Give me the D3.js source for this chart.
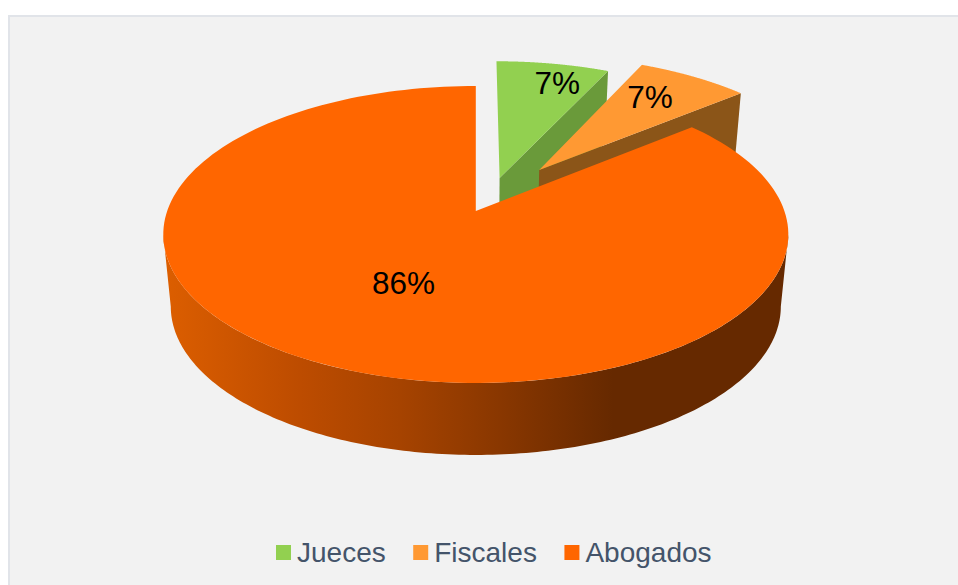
<!DOCTYPE html>
<html>
<head>
<meta charset="utf-8">
<style>
  html, body { margin: 0; padding: 0; background: #fff; }
  svg { display: block; }
  text { font-family: "Liberation Sans", Arial, sans-serif; }
</style>
<script src="https://d3js.org/d3.v7.min.js"></script>
</head>
<body>
<svg id="chart" width="958" height="585"></svg>
<script>
// Shares of respondents by role
const categories = ["Jueces", "Fiscales", "Abogados"];
const shares = [7, 7, 86];
const shareLabels = ["7%", "7%", "86%"];

// Fill colours: top face, cut face
const topColors = ["#92d050", "#ff9933", "#ff6600"];
const cutColors = ["#6a9a3a", "#8b5518", "#662900"];

const width = 958, height = 585;
const svg = d3.select("#chart");

// Perspective disc: unit-circle plane coordinates are projected on screen.
// The base face is the top face moved down and pulled in slightly.
const persp = { cx: 475.8, cy: 211, a: 308.6, b: 144.8, p: 0.158, drop: 72, inset: 0.976 };
function project(u, v, base) {
  const w = 1 + persp.p * v;
  return [
    persp.cx + (base ? persp.inset : 1) * persp.a * u / w,
    persp.cy + (base ? persp.drop : 0) - persp.b * v / w
  ];
}

// Displacement of each pulled-out slice in plane units
const explode = [[0.08, 0.236], [0.215, 0.296], [0, 0]];
// Label anchors: radial fraction and angular nudge in radians
const labelPlace = [[0.82, 0.06], [0.74, -0.04], [0.51, 0]];

const pie = d3.pie().sort(null).startAngle(0).endAngle(2 * Math.PI);
const arcs = pie(shares).map((d, i) => ({ ...d, i }));

const line = d3.line();
const onRim = (d, ang, base) => project(explode[d.i][0] + Math.sin(ang), explode[d.i][1] + Math.cos(ang), base);
const apex = (d, base) => project(explode[d.i][0], explode[d.i][1], base);
const sweep = (from, to) => d3.range(0, 181).map(k => from + (to - from) * k / 180);

// Backdrop panel with its thin frame
svg.append("rect").attr("width", width).attr("height", height).attr("fill", "#fff");
svg.append("rect")
  .attr("x", 9).attr("y", 16).attr("width", width).attr("height", height)
  .attr("fill", "#f2f2f2").attr("stroke", "#e1e4e9").attr("stroke-width", 2);

// Side wall shading of the large slice runs left to right
const wallStops = [
  [165, "#dc5e00"], [300, "#bd4c00"], [400, "#a64300"],
  [500, "#893700"], [613, "#662900"], [790, "#662900"]
];
const grad = svg.append("defs").append("linearGradient")
  .attr("id", "wall").attr("gradientUnits", "userSpaceOnUse")
  .attr("x1", 165).attr("x2", 790).attr("y1", 0).attr("y2", 0);
wallStops.forEach(s => grad.append("stop")
  .attr("offset", (s[0] - 165) / 625).attr("stop-color", s[1]));

// Painter's order: far slices first, the big slice last
arcs.forEach(d => {
  const g = svg.append("g").attr("class", "slice");
  if (d.i < 2) {
    // Cut face along the clockwise edge of a pulled-out slice
    g.append("path")
      .attr("d", line([apex(d), onRim(d, d.endAngle), onRim(d, d.endAngle, true), apex(d, true)]) + "Z")
      .attr("fill", cutColors[d.i]);
  } else {
    // Outer wall between the two silhouette points of the disc
    const side = Math.acos(-persp.p);
    const rim = sweep(side, 2 * Math.PI - side);
    g.append("path")
      .attr("d", line(rim.map(a => onRim(d, a)).concat(rim.slice().reverse().map(a => onRim(d, a, true)))) + "Z")
      .attr("fill", "url(#wall)");
  }
  g.append("path")
    .attr("d", line([apex(d)].concat(sweep(d.startAngle, d.endAngle).map(a => onRim(d, a)))) + "Z")
    .attr("fill", topColors[d.i]);
});

// Percentage labels
svg.append("g").selectAll("text").data(arcs).join("text")
  .attr("transform", d => {
    const mid = (d.startAngle + d.endAngle) / 2 + labelPlace[d.i][1];
    const r = labelPlace[d.i][0];
    const pt = project(explode[d.i][0] + r * Math.sin(mid), explode[d.i][1] + r * Math.cos(mid));
    return `translate(${pt})`;
  })
  .attr("text-anchor", "middle").attr("dy", "0.35em")
  .attr("font-size", 31.5).attr("fill", "#000")
  .text(d => shareLabels[d.i]);

// Legend, laid out from the measured label widths
const legend = svg.append("g").attr("class", "legend");
let cursor = 276;
categories.forEach((name, i) => {
  legend.append("rect")
    .attr("x", cursor).attr("y", 545).attr("width", 15).attr("height", 15)
    .attr("fill", topColors[i]);
  const label = legend.append("text")
    .attr("x", cursor + 21).attr("y", 562)
    .attr("font-size", 28).attr("fill", "#44546a")
    .text(name);
  cursor += 21 + label.node().getComputedTextLength() + 27.5;
});
</script>
</body>
</html>
